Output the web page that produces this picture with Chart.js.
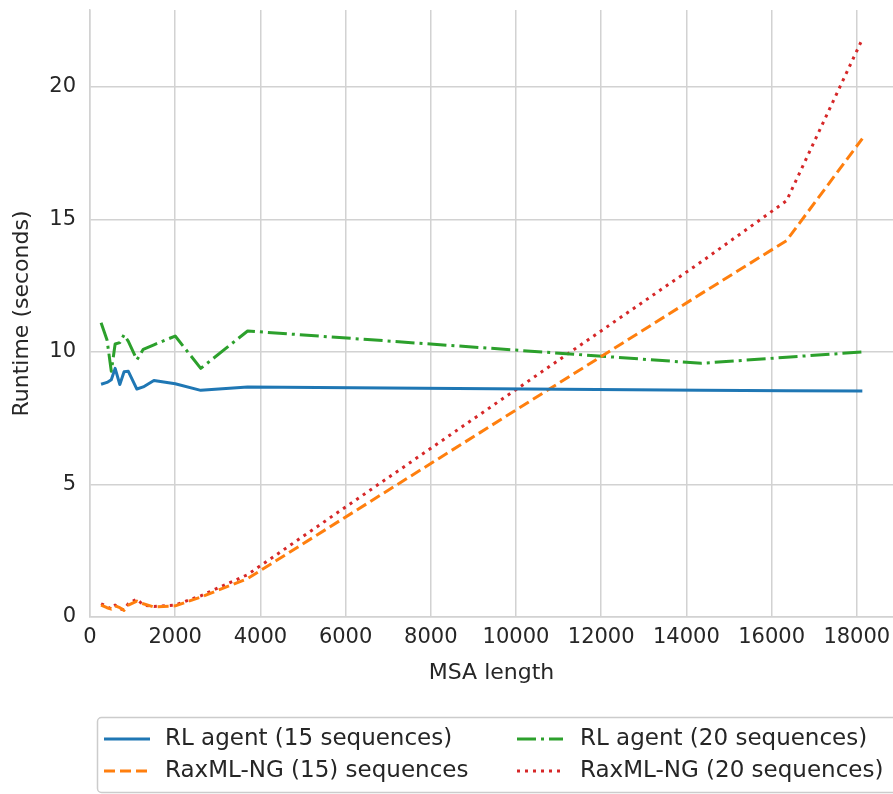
<!DOCTYPE html>
<html>
<head>
<meta charset="utf-8">
<script src="https://cdn.jsdelivr.net/npm/chart.js@4.4.1/dist/chart.umd.min.js"></script>
<style>
  html, body { margin: 0; padding: 0; background: #fff; overflow: hidden; }
  #wrap { width: 893px; height: 794px; position: relative; }
</style>
</head>
<body>
<div id="wrap"><canvas id="runtimeChart"></canvas></div>
<script>
// MSA lengths (x) shared by all four series
const msaLength = [260, 400, 500, 590, 700, 800, 900, 1100, 1250, 1500, 2000, 2600, 3700, 14350, 16350, 18130];

// runtimes in seconds
const rlAgent15 = [8.78, 8.85, 8.95, 9.38, 8.77, 9.25, 9.27, 8.60, 8.68, 8.92, 8.80, 8.55, 8.68, 8.55, 8.54, 8.53];
const rlAgent20 = [11.1, 10.45, 9.27, 10.3, 10.35, 10.65, 10.4, 9.7, 10.1, 10.27, 10.6, 9.38, 10.79, 9.57, 9.8, 10.0];
const raxml15 = [0.45, 0.35, 0.30, 0.42, 0.35, 0.25, 0.45, 0.60, 0.50, 0.38, 0.42, 0.75, 1.45, 12.2, 14.2, 18.05];
const raxml20 = [0.50, 0.40, 0.30, 0.45, 0.30, 0.28, 0.50, 0.68, 0.45, 0.40, 0.45, 0.80, 1.60, 13.4, 15.7, 21.8];

const xTicks = [0, 2000, 4000, 6000, 8000, 10000, 12000, 14000, 16000, 18000];
const yTicks = [0, 5, 10, 15, 20];

const textColor = "#262626";
const gridColor = "#d2d2d2";
const fontFamily = "'DejaVu Sans', sans-serif";

function points(ys) {
    return msaLength.map((x, i) => ({ x: x, y: ys[i] }));
}

// no extra room for half-labels at the axis ends
function noEdgePadding(s) {
    s.paddingTop = 0;
    s.paddingBottom = 0;
    s.paddingLeft = 0;
    s.paddingRight = 0;
}

// legend drawn in matplotlib style: framed box below the plot, two columns
const boxLegend = {
    id: "boxLegend",
    afterDraw(chart) {
        const ctx = chart.ctx;
        const ds = chart.data.datasets;
        ctx.save();
        ctx.fillStyle = "rgba(255,255,255,0.8)";
        ctx.strokeStyle = "#cccccc";
        ctx.lineWidth = 1.5;
        ctx.beginPath();
        ctx.roundRect(97.5, 717.5, 810, 75, 4);
        ctx.fill();
        ctx.stroke();

        const cols = [{ hx: 104, tx: 165 }, { hx: 517, tx: 580 }];
        const rows = [739, 771];
        ds.forEach((d, i) => {
            const c = cols[Math.floor(i / 2)];
            const y = rows[i % 2];
            ctx.strokeStyle = d.borderColor;
            ctx.lineWidth = d.borderWidth;
            ctx.lineCap = "butt";
            ctx.setLineDash(d.borderDash || []);
            ctx.beginPath();
            ctx.moveTo(c.hx, y);
            ctx.lineTo(c.hx + 46, y);
            ctx.stroke();
            ctx.setLineDash([]);
            ctx.fillStyle = textColor;
            ctx.font = "23px " + fontFamily;
            ctx.textBaseline = "middle";
            ctx.textAlign = "left";
            ctx.fillText(d.label, c.tx, y);
        });
        ctx.restore();
    }
};

const ctx = document.getElementById("runtimeChart").getContext("2d");
new Chart(ctx, {
    type: "line",
    data: {
        datasets: [
            {
                label: "RL agent (15 sequences)",
                data: points(rlAgent15),
                borderColor: "#1f77b4",
                borderWidth: 3,
                borderDash: [],
                fill: false
            },
            {
                label: "RaxML-NG (15) sequences",
                data: points(raxml15),
                borderColor: "#ff7f0e",
                borderWidth: 3,
                borderDash: [11, 5],
                fill: false
            },
            {
                label: "RL agent (20 sequences)",
                data: points(rlAgent20),
                borderColor: "#2ca02c",
                borderWidth: 3,
                borderDash: [19, 5, 3, 5],
                fill: false
            },
            {
                label: "RaxML-NG (20 sequences)",
                data: points(raxml20),
                borderColor: "#d62728",
                borderWidth: 3,
                borderDash: [3, 5],
                fill: false
            }
        ]
    },
    options: {
        responsive: true,
        maintainAspectRatio: false,
        animation: false,
        layout: { padding: { top: 10, right: 0, bottom: 102, left: 0 } },
        elements: {
            point: { radius: 0, hoverRadius: 0 },
            line: { tension: 0, borderCapStyle: "butt", borderJoinStyle: "round" }
        },
        plugins: {
            legend: { display: false },
            tooltip: { enabled: false }
        },
        scales: {
            x: {
                type: "linear",
                min: 0,
                max: 18850,
                afterBuildTicks: s => { s.ticks = xTicks.map(v => ({ value: v })); },
                afterFit: s => { s.height = 75; noEdgePadding(s); },
                ticks: {
                    autoSkip: false,
                    maxRotation: 0,
                    color: textColor,
                    padding: 8,
                    font: { family: fontFamily, size: 21 },
                    callback: v => String(v)
                },
                grid: { color: gridColor, lineWidth: 1.5, drawTicks: false },
                border: { display: true, color: gridColor, width: 1.5 },
                title: {
                    display: true,
                    text: "MSA length",
                    color: textColor,
                    padding: { top: 0, bottom: 6 },
                    font: { family: fontFamily, size: 22 }
                }
            },
            y: {
                type: "linear",
                min: 0,
                max: 22.9,
                afterBuildTicks: s => { s.ticks = yTicks.map(v => ({ value: v })); },
                afterFit: s => { s.width = 90; noEdgePadding(s); },
                ticks: {
                    color: textColor,
                    padding: 14,
                    font: { family: fontFamily, size: 21 }
                },
                grid: { color: gridColor, lineWidth: 1.5, drawTicks: false },
                border: { display: true, color: gridColor, width: 1.5 },
                title: {
                    display: true,
                    text: "Runtime (seconds)",
                    color: textColor,
                    padding: { top: 9, bottom: 0 },
                    font: { family: fontFamily, size: 22 }
                }
            }
        }
    },
    plugins: [boxLegend]
});
</script>
</body>
</html>
